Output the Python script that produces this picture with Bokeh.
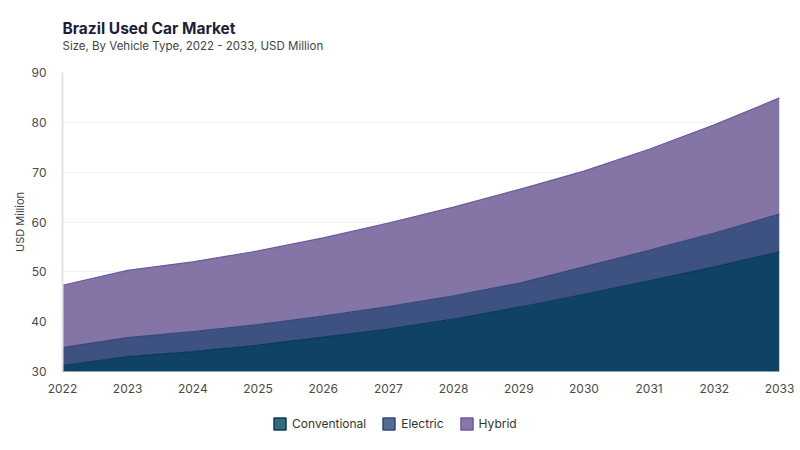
import numpy as np
from bokeh.plotting import figure
from bokeh.layouts import column
from bokeh.models import (ColumnDataSource, Range1d, FixedTicker, Label, Legend, LegendItem)
from bokeh.transform import stack
from bokeh.embed import file_html
from bokeh.resources import INLINE

years = [2022, 2023, 2024, 2025, 2026, 2027, 2028, 2029, 2030, 2031, 2032, 2033]
conventional = [31.2, 33.0, 34.0, 35.3, 36.9, 38.5, 40.5, 42.9, 45.5, 48.2, 51.0, 54.0]
electric = [3.6, 3.8, 4.0, 4.1, 4.2, 4.5, 4.7, 4.8, 5.5, 6.1, 6.8, 7.6]
hybrid = [12.5, 13.5, 14.0, 14.8, 15.7, 16.8, 17.8, 18.8, 19.2, 20.3, 21.7, 23.3]
series_names = ["Conventional", "Electric", "Hybrid"]
y_ticks = [30, 40, 50, 60, 70, 80, 90]
title_text = "Brazil Used Car Market"
subtitle_text = "Size, By Vehicle Type, 2022 - 2033, USD Million"

fills = ["#0f4263", "#3e5282", "#8574a6"]
edges = ["#0b3a58", "#34477a", "#6b5a9c"]
legend_fills = ["#336a80", "#566a96", "#8a78ac"]

FONT = "Inter"
W = 800


def blank(height):
    f = figure(width=W, height=height, output_backend="svg", toolbar_location=None,
               x_range=Range1d(0, 1), y_range=Range1d(0, 1), title=None,
               min_border=0)
    f.axis.visible = False
    f.grid.visible = False
    f.outline_line_color = None
    f.border_fill_color = "white"
    f.background_fill_color = "white"
    return f


# ---- header with title and subtitle (frames of the column align at x = 62)
head = blank(64)
head.add_layout(Label(x=0, y=36, x_units="screen", y_units="screen", text=title_text,
                      text_font=FONT, text_font_size="15.5px", text_font_style="bold",
                      text_color="#1e1e3a", text_baseline="alphabetic"))
head.add_layout(Label(x=0, y=19, x_units="screen", y_units="screen", text=subtitle_text,
                      text_font=FONT, text_font_size="11.5px", text_color="#444444",
                      text_baseline="alphabetic"))

# ---- main chart
source = ColumnDataSource(dict(year=years, Conventional=conventional,
                               Electric=electric, Hybrid=hybrid))

p = figure(frame_width=717, frame_height=299, output_backend="svg", toolbar_location=None,
           x_range=Range1d(2022, 2033), y_range=Range1d(30, 90), title=None,
           min_border_left=62, min_border_right=21, min_border_top=8, min_border_bottom=30)
p.outline_line_color = None
p.background_fill_color = "white"
p.border_fill_color = "white"

p.varea_stack(stackers=series_names, x="year", color=fills, source=source)
for i in range(3):
    p.line(x="year", y=stack(*series_names[:i + 1]), source=source,
           line_color=edges[i], line_width=1.2)

p.xaxis.ticker = FixedTicker(ticks=years)
p.yaxis.ticker = FixedTicker(ticks=y_ticks)
for ax in (p.xaxis[0], p.yaxis[0]):
    ax.major_label_text_font = FONT
    ax.major_label_text_font_size = "12px"
    ax.major_label_text_color = "#4a4a4a"
    ax.major_tick_line_color = None
    ax.minor_tick_line_color = None
p.xaxis.axis_line_color = None
p.xaxis.major_label_standoff = 6
p.yaxis.axis_line_color = "#e3e3e3"
p.yaxis.axis_line_width = 2
p.yaxis.major_label_standoff = 10
p.yaxis.axis_label = "USD Million"
p.yaxis.axis_label_text_font = FONT
p.yaxis.axis_label_text_font_size = "11px"
p.yaxis.axis_label_text_font_style = "normal"
p.yaxis.axis_label_text_color = "#444444"
p.yaxis.axis_label_standoff = 1

p.xgrid.grid_line_color = None
p.ygrid.grid_line_color = "#f1f1f1"
p.ygrid.grid_line_width = 1

# ---- legend strip (swatch renderers hold NaN so only the legend shows them)
foot = blank(49)
items = []
for i, name in enumerate(series_names):
    r = foot.quad(left=[np.nan], right=[np.nan], top=[np.nan], bottom=[np.nan],
                  fill_color=legend_fills[i], line_color=edges[i], line_width=1.5)
    items.append(LegendItem(label=name, renderers=[r]))
legend = Legend(items=items, orientation="horizontal", location=(210, 19),
                label_text_font=FONT, label_text_font_size="12px",
                label_text_color="#333333", glyph_width=15, glyph_height=15,
                spacing=15, label_standoff=5, border_line_color=None,
                background_fill_alpha=0, margin=0, padding=0)
foot.add_layout(legend)

layout = column(head, p, foot, spacing=0)
open("out.html", "w").write(file_html(layout, INLINE))
